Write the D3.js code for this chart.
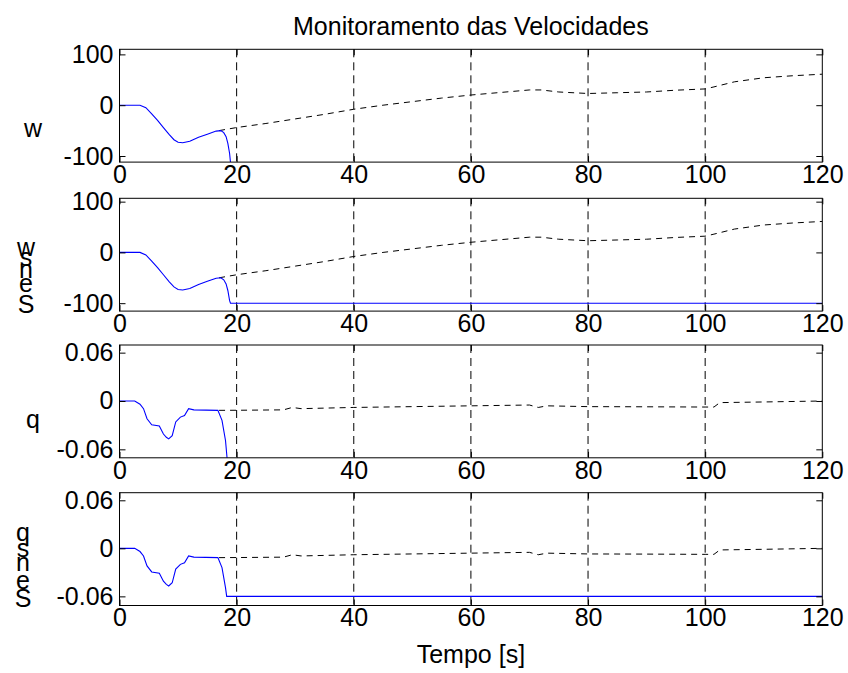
<!DOCTYPE html>
<html>
<head>
<meta charset="utf-8">
<script src="https://cdnjs.cloudflare.com/ajax/libs/d3/7.8.5/d3.min.js"></script>
<style>
  body { margin: 0; background: #fff; }
  svg { font-family: "Liberation Sans", Arial, sans-serif; }
</style>
</head>
<body>
<div id="chart"></div>
<script>
// chart data
var timeTicks = [0, 20, 40, 60, 80, 100, 120];
var wTicks = [-100, 0, 100];
var qTicks = [-0.06, 0, 0.06];

// measured w (blue), diverges after ~18 s
var wMeasT = [0, 3.5, 4.5, 5.5, 6.5, 7.5, 8.5, 9.3, 10, 10.8, 12, 13.5, 15, 16.5, 17.3, 17.8, 18.2, 18.5, 18.8, 19.1];
var wMeasV = [0, 0, -5, -17, -30, -44, -58, -68, -73, -74, -71, -63, -57, -51, -50, -54, -62, -75, -95, -130];
// saturated w (panel 2)
var wSatT = [0, 3.5, 4.5, 5.5, 6.5, 7.5, 8.5, 9.3, 10, 10.8, 12, 13.5, 15, 16.5, 17.3, 17.8, 18.2, 18.5, 18.8, 18.95, 120];
var wSatV = [0, 0, -5, -17, -30, -44, -58, -68, -73, -74, -71, -63, -57, -51, -50, -54, -62, -75, -95, -100, -100];
// reference w (black dashed)
var wRefT = [17, 20, 25, 30, 35, 40, 45, 50, 55, 60, 65, 70, 72, 75, 80, 85, 90, 95, 100, 101.5, 105, 110, 115, 120];
var wRefV = [-50, -44, -36, -27, -18, -8, 0, 7, 14, 20, 25, 30, 30, 26, 23, 24.5, 26, 29.5, 32, 36, 46, 54, 58, 61];

// measured q (blue)
var qMeasT = [0, 2.6, 3.5, 4.1, 4.7, 5.5, 6.8, 7.5, 8.0, 8.4, 9.0, 9.6, 10.4, 11.1, 11.8, 12.7, 16.8, 17.5, 18.1, 18.6];
var qMeasV = [0, 0, -0.004, -0.0095, -0.022, -0.0295, -0.031, -0.041, -0.045, -0.047, -0.043, -0.026, -0.02, -0.018, -0.0095, -0.011, -0.0116, -0.024, -0.049, -0.09];
// saturated q (panel 4)
var qSatT = [0, 2.6, 3.5, 4.1, 4.7, 5.5, 6.8, 7.5, 8.0, 8.4, 9.0, 9.6, 10.4, 11.1, 11.8, 12.7, 16.8, 17.5, 18.1, 18.3, 120];
var qSatV = [0, 0, -0.004, -0.0095, -0.022, -0.0295, -0.031, -0.041, -0.045, -0.047, -0.043, -0.026, -0.02, -0.018, -0.0095, -0.011, -0.0116, -0.024, -0.049, -0.06, -0.06];
// reference q (black dashed)
var qRefT = [17, 20, 28, 29.5, 31, 40, 50, 60, 70, 71.5, 73, 80, 90, 100, 101.5, 102.5, 110, 120];
var qRefV = [-0.0116, -0.0115, -0.011, -0.008, -0.0095, -0.008, -0.007, -0.006, -0.005, -0.008, -0.006, -0.007, -0.0072, -0.0075, -0.0075, -0.002, -0.0012, 0];

var width = 848,
  height = 673;

var svg = d3.select('#chart').append('svg')
    .attr('width', width)
    .attr('height', height);

var left = 119.5, right = 822.3;
var fontSize = '25px';

var x = d3.scaleLinear()
    .domain([0, 120])
    .range([left, right]);

function zip(ts, vs) {
  return ts.map(function(t, i) { return [t, vs[i]]; });
}

// plain hyphen minus like the original
var plain = function(d) { return String(d); };

var panels = [
  { top: 49.3, domain: [-112, 110], ticks: wTicks,
    blue: zip(wMeasT, wMeasV), ref: zip(wRefT, wRefV), label: ['w'], labelX: 33, labelY: [137] },
  { top: 198.3, domain: [-115.6, 106.6], ticks: wTicks,
    blue: zip(wSatT, wSatV), ref: zip(wRefT, wRefV), label: ['S', 'e', 'n', 's', 'w'], labelX: 26, labelY: [313, 292, 278, 266, 256] },
  { top: 345, domain: [-0.0705, 0.0695], ticks: qTicks,
    blue: zip(qMeasT, qMeasV), ref: zip(qRefT, qRefV), label: ['q'], labelX: 33, labelY: [428] },
  { top: 492.7, domain: [-0.0714, 0.0695], ticks: qTicks,
    blue: zip(qSatT, qSatV), ref: zip(qRefT, qRefV), label: ['S', 'e', 'n', 's', 'q'], labelX: 23, labelY: [607, 589, 571, 557, 541] }
];
var ph = 112.8;

panels.forEach(function(p, i) {
  var y = d3.scaleLinear()
      .domain(p.domain)
      .range([p.top + ph, p.top]);

  var g = svg.append('g').attr('class', 'panel');

  g.append('clipPath')
      .attr('id', 'clip' + i)
    .append('rect')
      .attr('x', left).attr('y', p.top)
      .attr('width', right - left).attr('height', ph);

  // x grid
  g.selectAll('.grid')
      .data(timeTicks.filter(function(t) { return t > 0 && t < 120; }))
      .enter().append('line')
      .attr('x1', function(d) { return x(d); })
      .attr('x2', function(d) { return x(d); })
      .attr('y1', p.top).attr('y2', p.top + ph)
      .style('stroke', '#000')
      .style('stroke-width', 1)
      .style('stroke-dasharray', '8,5');

  var line = d3.line()
      .x(function(d) { return x(d[0]); })
      .y(function(d) { return y(d[1]); });

  g.append('path')
      .datum(p.ref)
      .attr('d', line)
      .attr('clip-path', 'url(#clip' + i + ')')
      .style('fill', 'none')
      .style('stroke', '#000')
      .style('stroke-width', 1)
      .style('stroke-dasharray', '6,5');

  g.append('path')
      .datum(p.blue)
      .attr('d', line)
      .attr('clip-path', 'url(#clip' + i + ')')
      .style('fill', 'none')
      .style('stroke', '#0000ff')
      .style('stroke-width', 1.1);

  // axes with inward ticks
  var tickLen = 6;
  var xb = g.append('g')
      .attr('transform', 'translate(0,' + (p.top + ph) + ')')
      .call(d3.axisBottom(x).tickValues(timeTicks).tickSizeInner(-tickLen).tickSizeOuter(0).tickPadding(3));
  var xt = g.append('g')
      .attr('transform', 'translate(0,' + p.top + ')')
      .call(d3.axisTop(x).tickValues(timeTicks).tickSizeInner(-tickLen).tickSizeOuter(0).tickFormat(''));
  var yl = g.append('g')
      .attr('transform', 'translate(' + left + ',0)')
      .call(d3.axisLeft(y).tickValues(p.ticks).tickFormat(plain).tickSizeInner(-tickLen).tickSizeOuter(0).tickPadding(6));
  var yr = g.append('g')
      .attr('transform', 'translate(' + right + ',0)')
      .call(d3.axisRight(y).tickValues(p.ticks).tickSizeInner(-tickLen).tickSizeOuter(0).tickFormat(''));

  [xb, xt, yl, yr].forEach(function(a) {
    a.select('.domain').remove();
    a.selectAll('line').style('stroke', '#000');
    a.selectAll('text')
      .style('font-family', '"Liberation Sans", Arial, sans-serif')
      .style('font-size', fontSize)
      .style('fill', '#000');
  });

  g.append('rect')
      .attr('x', left).attr('y', p.top)
      .attr('width', right - left).attr('height', ph)
      .style('fill', 'none')
      .style('stroke', '#000')
      .style('stroke-width', 1);

  // y label, drawn letter by letter like the original
  g.selectAll('.ylab')
      .data(p.label)
      .enter().append('text')
      .attr('x', p.labelX)
      .attr('y', function(d, k) { return p.labelY[k]; })
      .attr('text-anchor', 'middle')
      .style('font-size', fontSize)
      .text(function(d) { return d; });
});

svg.append('text')
    .attr('x', (left + right) / 2)
    .attr('y', 35)
    .attr('text-anchor', 'middle')
    .style('font-size', fontSize)
    .text('Monitoramento das Velocidades');

svg.append('text')
    .attr('x', (left + right) / 2)
    .attr('y', 663)
    .attr('text-anchor', 'middle')
    .style('font-size', fontSize)
    .text('Tempo [s]');
</script>
</body>
</html>
